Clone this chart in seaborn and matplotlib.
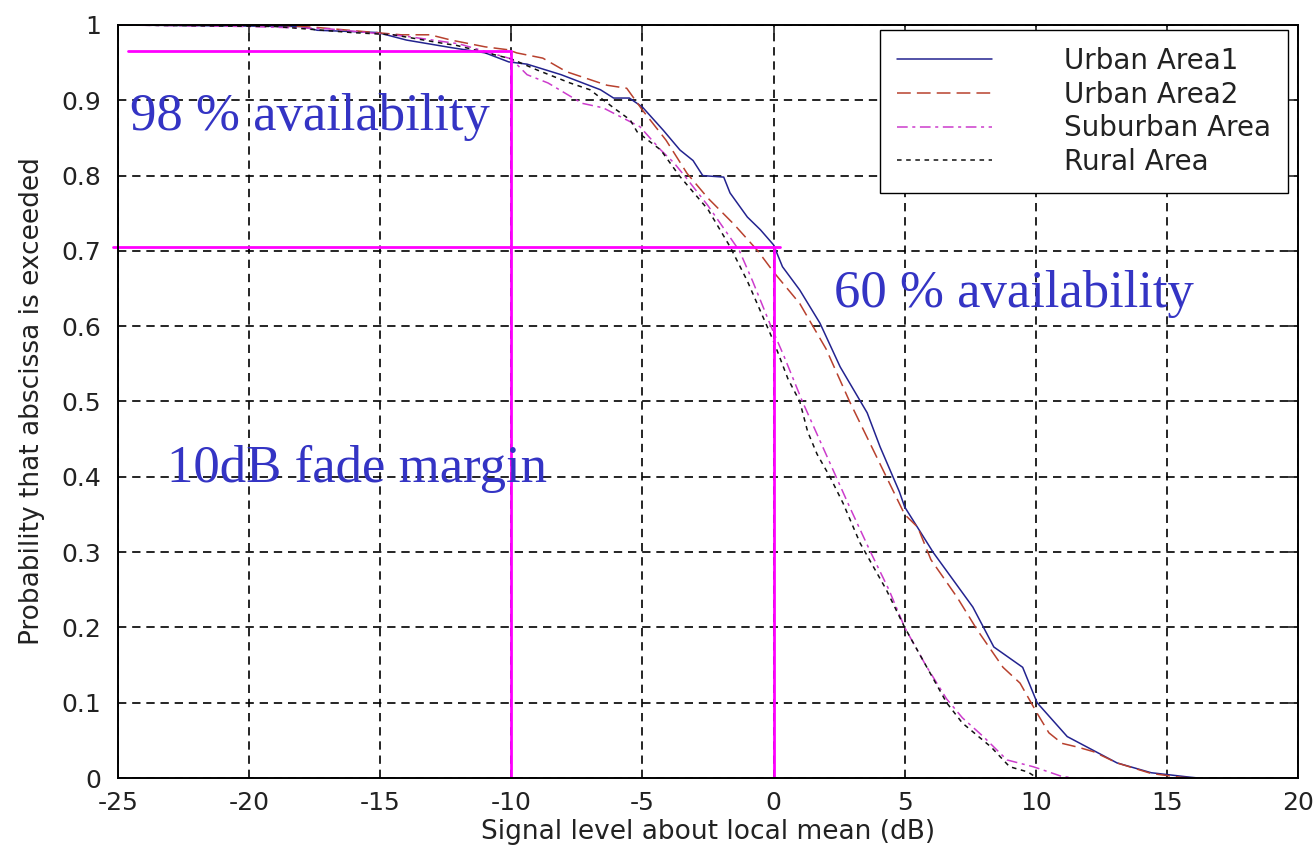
import numpy as np
import pandas as pd
import matplotlib
matplotlib.use("Agg")
import matplotlib.pyplot as plt
import seaborn as sns

# ---------------- data ----------------
series_names = ["Urban Area1", "Urban Area2", "Suburban Area", "Rural Area"]

urban1_x = [-25, -18, -17.4, -15.1, -14, -12.3, -11, -10.1, -9.4, -8.1, -6.6, -6.1, -5.5, -5.0,
            -4.2, -3.57, -3.07, -2.7, -1.9, -1.66, -1.0, -0.5, 0, 0.34, 1.0, 1.77, 2.54, 3.57,
            4.06, 4.8, 5.0, 6.1, 7.6, 8.4, 9.5, 10.05, 11.2, 13.1, 14.4, 15.9, 16.2]
urban1_y = [1.0, 0.998, 0.993, 0.99, 0.98, 0.97, 0.963, 0.951, 0.948, 0.934, 0.914, 0.903, 0.903,
            0.891, 0.86, 0.834, 0.82, 0.80, 0.798, 0.777, 0.745, 0.728, 0.708, 0.679, 0.648, 0.604,
            0.546, 0.485, 0.44, 0.38, 0.36, 0.299, 0.227, 0.174, 0.147, 0.10, 0.055, 0.02, 0.007,
            0.001, 0.0]

urban2_x = [-25, -19, -17.5, -14.2, -13.1, -12.3, -11, -10.1, -9.8, -8.8, -7.9, -6.7, -6.35, -5.6,
            -5.0, -4.1, -3.3, -2.5, -1.5, -0.6, 0, 1.0, 2.0, 2.9, 3.6, 4.3, 5.0, 5.5, 6.0, 7.0,
            7.76, 8.75, 9.4, 10.05, 10.5, 11.0, 11.6, 12.2, 13.1, 14.4, 15.5, 16.0]
urban2_y = [1.0, 1.0, 0.997, 0.987, 0.987, 0.98, 0.971, 0.967, 0.963, 0.956, 0.938, 0.924, 0.92,
            0.916, 0.887, 0.847, 0.803, 0.77, 0.735, 0.70, 0.672, 0.63, 0.57, 0.50, 0.45, 0.40,
            0.35, 0.333, 0.29, 0.24, 0.197, 0.147, 0.126, 0.086, 0.06, 0.046, 0.041, 0.035, 0.02,
            0.006, 0.001, 0.0]

suburban_x = [-25, -20, -17, -14, -12, -11, -10, -9.4, -8.6, -7.3, -6.5, -5.1, -4.3, -3.8, -3.4,
              -2.5, -1.3, -0.8, -0.1, 0.4, 1.1, 2.0, 2.9, 3.7, 4.4, 5.0, 5.8, 6.6, 7.2, 8.0, 8.9,
              9.9, 10.5, 11.0, 11.5]
suburban_y = [1.0, 0.998, 0.995, 0.985, 0.975, 0.965, 0.955, 0.934, 0.923, 0.896, 0.89, 0.865,
              0.834, 0.817, 0.80, 0.76, 0.70, 0.66, 0.60, 0.56, 0.50, 0.43, 0.36, 0.30, 0.25, 0.20,
              0.15, 0.105, 0.08, 0.055, 0.024, 0.015, 0.008, 0.002, 0.0]

rural_x = [-25, -19, -16.1, -14.5, -12.5, -12.1, -10, -9, -7.76, -7.0, -6.1, -5.47, -5.2, -4.3,
           -3.6, -2.5, -1.65, -1.0, -0.25, 0.0, 0.55, 1.0, 1.3, 1.66, 2.15, 2.65, 3.3, 4.3, 5.0,
           5.8, 6.6, 7.2, 8.3, 9.0, 9.7, 10.05]
rural_y = [1.0, 0.998, 0.99, 0.987, 0.975, 0.973, 0.955, 0.94, 0.923, 0.914, 0.89, 0.874, 0.858,
           0.834, 0.80, 0.755, 0.705, 0.66, 0.60, 0.58, 0.53, 0.50, 0.46, 0.43, 0.40, 0.365, 0.312,
           0.25, 0.20, 0.15, 0.10, 0.073, 0.041, 0.015, 0.008, 0.0]

x_ticks = [-25, -20, -15, -10, -5, 0, 5, 10, 15, 20]
y_ticks = [0, 0.1, 0.2, 0.3, 0.4, 0.5, 0.6, 0.7, 0.8, 0.9, 1.0]
y_tick_labels = ["0", "0.1", "0.2", "0.3", "0.4", "0.5", "0.6", "0.7", "0.8", "0.9", "1"]

# marker lines (availability / fade margin)
avail98_level = 0.965
avail60_level = 0.705
margin98_x = -10
margin60_x = 0

# ---------------- build long-form table ----------------
frames = []
for name, xs, ys in [("Urban Area1", urban1_x, urban1_y), ("Urban Area2", urban2_x, urban2_y),
                     ("Suburban Area", suburban_x, suburban_y), ("Rural Area", rural_x, rural_y)]:
    frames.append(pd.DataFrame({"x": xs, "y": ys, "series": name}))
df = pd.concat(frames, ignore_index=True)

sns.set_style("white")
plt.rcParams["font.family"] = ["DejaVu Sans"]
plt.rcParams["axes.unicode_minus"] = False

W, H = 1316, 852
fig = plt.figure(figsize=(W / 100, H / 100), dpi=100)
L, R, T, B = 118, 1298, 25, 778
ax = fig.add_axes([L / W, 1 - B / H, (R - L) / W, (B - T) / H])

palette = {"Urban Area1": "#23238f", "Urban Area2": "#b8412e",
           "Suburban Area": "#cc3ccc", "Rural Area": "#111111"}
dashes = {"Urban Area1": "", "Urban Area2": (9, 4), "Suburban Area": (7, 3, 2, 3),
          "Rural Area": (3, 3)}

sns.lineplot(data=df, x="x", y="y", hue="series", style="series", hue_order=series_names,
             style_order=series_names, palette=palette, dashes=dashes, estimator=None,
             sort=False, linewidth=1.1, ax=ax, legend=True)

ax.set_xlim(-25, 20)
ax.set_ylim(0, 1)
ax.set_xticks(x_ticks)
ax.set_yticks(y_ticks)
ax.set_yticklabels(y_tick_labels)
ax.grid(True, color="black", linestyle=(0, (5, 3.5)), linewidth=1.2)
ax.set_axisbelow(True)
for s in ax.spines.values():
    s.set_visible(True)
    s.set_color("black")
    s.set_linewidth(1.4)
ax.tick_params(direction="in", length=7, width=1.2, top=True, right=True,
               labelsize=18, labelcolor="#222222")
ax.tick_params(axis="x", pad=9)
ax.tick_params(axis="y", pad=12)

ax.set_xlabel("Signal level about local mean (dB)", fontsize=19, color="#222222", labelpad=3)
ax.set_ylabel("Probability that abscissa is exceeded", fontsize=19, color="#222222", labelpad=12)

# magenta guide lines
mag = "#ff00ff"
ax.plot([-24.6, margin98_x], [avail98_level, avail98_level], color=mag, lw=2.0, clip_on=False)
ax.plot([margin98_x, margin98_x], [0, avail98_level], color=mag, lw=2.0)
ax.plot([-25.2, 0.25], [avail60_level, avail60_level], color=mag, lw=2.0, clip_on=False)
ax.plot([margin60_x, margin60_x], [0, avail60_level], color=mag, lw=2.0)

txt_col = "#3434c4"
serif = ["Liberation Serif", "DejaVu Serif"]
ax.text(-24.55, 0.86, "98 % availability", fontsize=38, color=txt_col, family=serif, va="baseline")
ax.text(2.3, 0.625, "60 % availability", fontsize=38, color=txt_col, family=serif, va="baseline")
ax.text(-23.15, 0.393, "10dB fade margin", fontsize=38, color=txt_col, family=serif, va="baseline")

h, l = ax.get_legend_handles_labels()
leg = ax.legend(h, l, loc="upper right", bbox_to_anchor=((1288 - L) / (R - L), (B - 30) / (B - T)),
                borderaxespad=0, fontsize=20, frameon=True, fancybox=False, framealpha=1,
                edgecolor="black", handlelength=3.4, handletextpad=2.6, labelspacing=0.2,
                borderpad=0.62)
leg.get_frame().set_linewidth(1.0)
for t in leg.get_texts():
    t.set_color("#222222")

fig.savefig("out.png", dpi=100)
